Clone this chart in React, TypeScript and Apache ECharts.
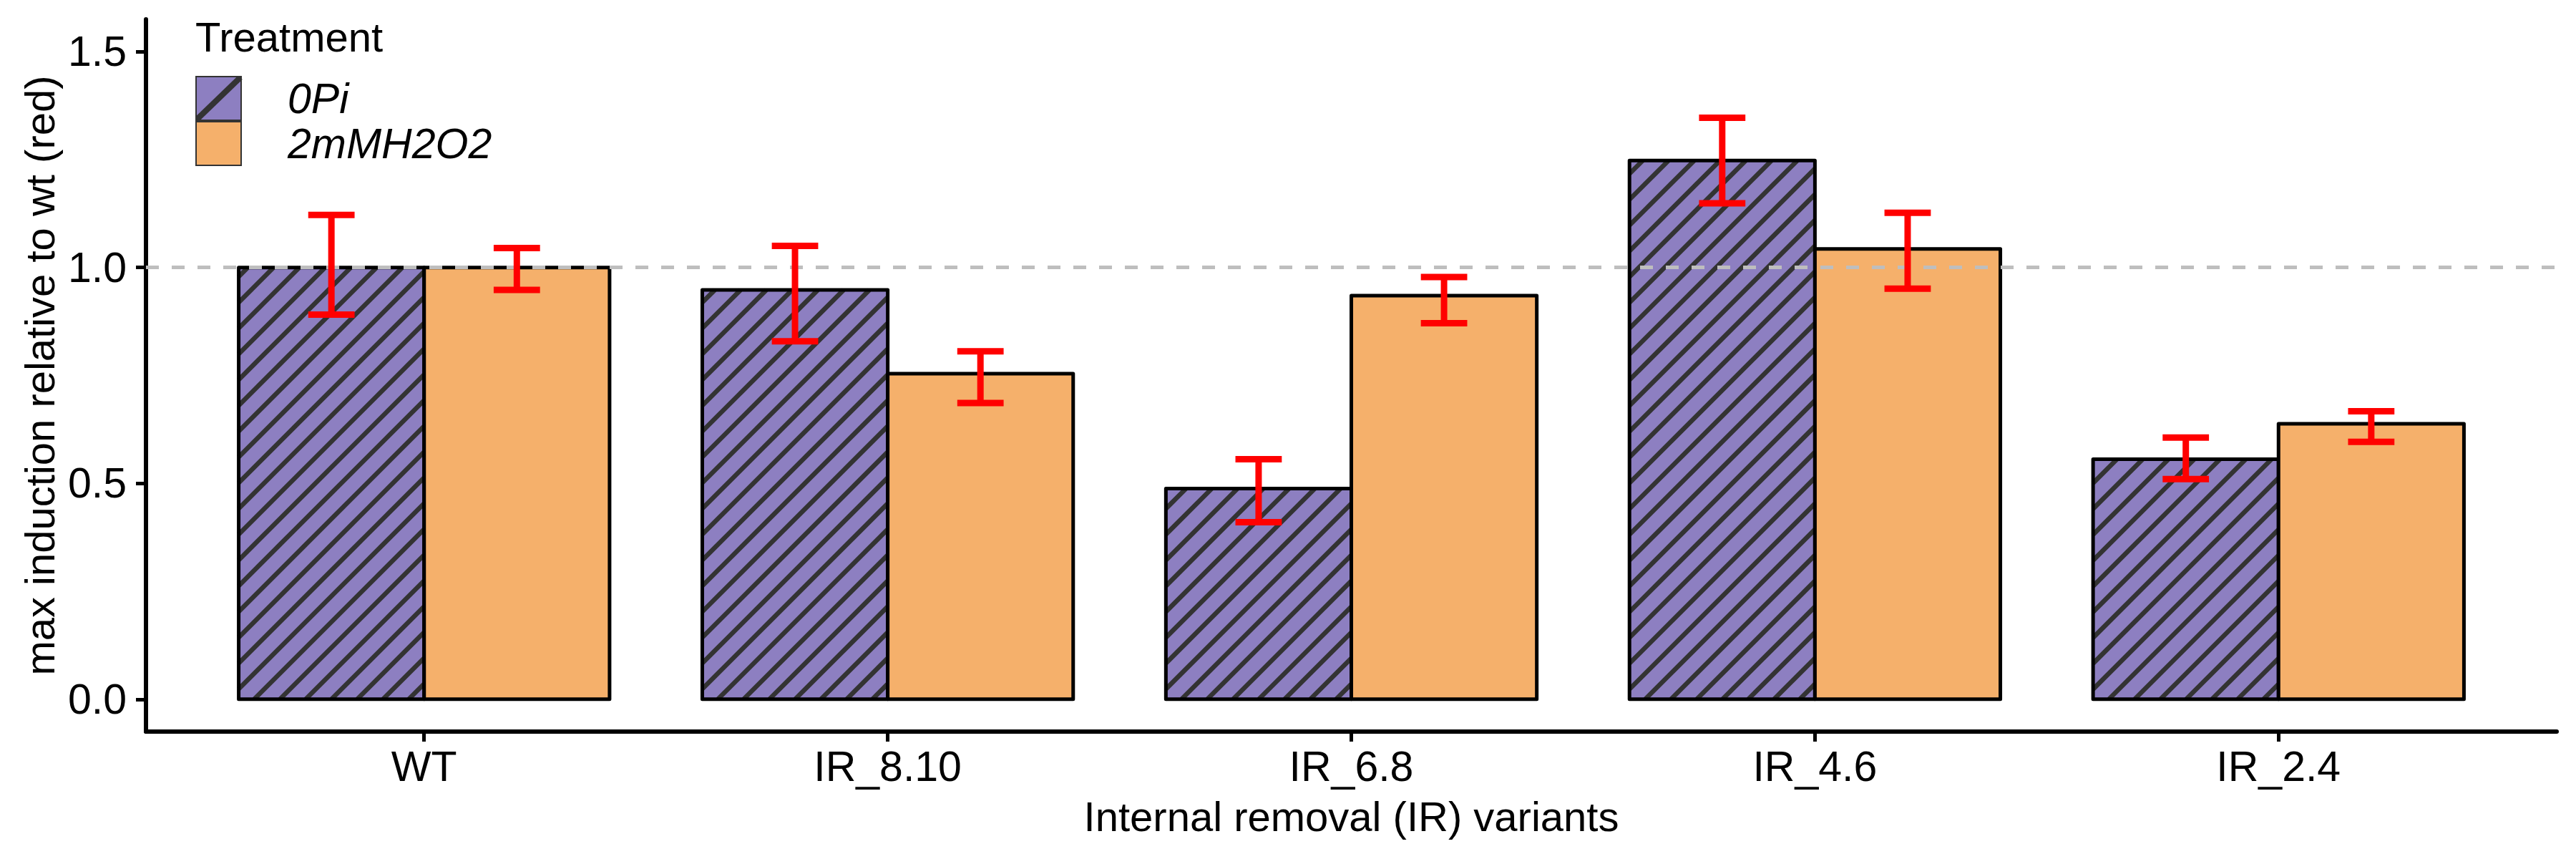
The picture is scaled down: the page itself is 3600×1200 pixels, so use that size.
import React, { useEffect, useRef } from "react";
import * as echarts from "echarts";

// ---- data ----
const categories = ["WT", "IR_8.10", "IR_6.8", "IR_4.6", "IR_2.4"];
const treatments = ["0Pi", "2mMH2O2"];
const pi0Mean = [1.0, 0.948, 0.488, 1.248, 0.556];
const pi0Low = [0.891, 0.829, 0.41, 1.149, 0.51];
const pi0High = [1.122, 1.05, 0.556, 1.347, 0.606];
const h2o2Mean = [1.0, 0.754, 0.935, 1.043, 0.638];
const h2o2Low = [0.948, 0.686, 0.871, 0.951, 0.596];
const h2o2High = [1.045, 0.806, 0.978, 1.127, 0.667];
const yTicks = [0, 0.5, 1.0, 1.5];
const refLine = 1.0;

// ---- style ----
const FONT = "'Liberation Sans', Arial, Helvetica, sans-serif";
const PURPLE = "#8D7FC1";
const ORANGE = "#F5B06B";
const HATCH = "#333333";
const RED = "#FF0000";
const HATCH_STEP = 36;

function svgIcon(fill: string, hatched: boolean) {
  const svg =
    "<svg xmlns='http://www.w3.org/2000/svg' width='124' height='63' viewBox='0 0 124 63'>" +
    `<rect x='1' y='1' width='63' height='61' fill='${fill}' stroke='#333' stroke-width='2'/>` +
    (hatched ? "<line x1='2' y1='61' x2='63' y2='2' stroke='#333' stroke-width='8'/>" : "") +
    "</svg>";
  return "image://data:image/svg+xml;charset=utf-8," + encodeURIComponent(svg);
}

function makeBarRenderer(from: number, to: number, fill: string, hatched: boolean) {
  return (params: any, api: any) => {
    const i = api.value(0);
    const v = api.value(1);
    const p0 = api.coord([i + from, v]);
    const p1 = api.coord([i + to, 0]);
    const x0 = p0[0], y0 = p0[1], x1 = p1[0], y1 = p1[1];
    const children: any[] = [
      { type: "rect", shape: { x: x0, y: y0, width: x1 - x0, height: y1 - y0 }, style: { fill } },
    ];
    if (hatched) {
      const start = Math.ceil((x0 + y0) / HATCH_STEP) * HATCH_STEP;
      for (let c = start; c <= x1 + y1; c += HATCH_STEP) {
        const xa = Math.max(x0, c - y1);
        const xb = Math.min(x1, c - y0);
        if (xb > xa) {
          children.push({
            type: "line",
            shape: { x1: xa, y1: c - xa, x2: xb, y2: c - xb },
            style: { stroke: HATCH, lineWidth: 6.5, lineCap: "butt" },
          });
        }
      }
    }
    children.push({
      type: "rect",
      shape: { x: x0, y: y0, width: x1 - x0, height: y1 - y0 },
      style: { fill: "none", stroke: "#000", lineWidth: 5, lineJoin: "round" },
    });
    return { type: "group", children };
  };
}

function makeErrRenderer(off: number) {
  return (params: any, api: any) => {
    const i = api.value(0);
    const lo = api.value(1);
    const hi = api.value(2);
    const xc = i + off;
    const top = api.coord([xc, hi]);
    const bot = api.coord([xc, lo]);
    const tl = api.coord([xc - 0.05, hi]);
    const tr = api.coord([xc + 0.05, hi]);
    const bl = api.coord([xc - 0.05, lo]);
    const br = api.coord([xc + 0.05, lo]);
    const st = { stroke: RED, lineWidth: 9, lineCap: "butt" };
    return {
      type: "group",
      children: [
        { type: "line", shape: { x1: top[0], y1: top[1], x2: bot[0], y2: bot[1] }, style: st },
        { type: "line", shape: { x1: tl[0], y1: tl[1], x2: tr[0], y2: tr[1] }, style: st },
        { type: "line", shape: { x1: bl[0], y1: bl[1], x2: br[0], y2: br[1] }, style: st },
      ],
    };
  };
}

export default function App() {
  const ref = useRef<HTMLDivElement>(null);
  useEffect(() => {
    if (!ref.current) return;
    const chart = echarts.init(ref.current, null, { renderer: "svg" });
    const catIdx = categories.map((_, i) => i);
    chart.setOption({
      animation: false,
      backgroundColor: "#ffffff",
      textStyle: { fontFamily: FONT },
      title: {
        text: "Treatment",
        left: 273,
        top: 22,
        padding: 0,
        textStyle: { fontSize: 58, fontWeight: "normal", color: "#000", fontFamily: FONT, lineHeight: 58 },
      },
      legend: {
        orient: "vertical",
        left: 273,
        top: 106,
        padding: 0,
        itemGap: 0,
        itemWidth: 124,
        itemHeight: 63,
        selectedMode: false,
        textStyle: { fontSize: 59, fontStyle: "italic", color: "#000", fontFamily: FONT },
        data: [
          { name: treatments[0], icon: svgIcon(PURPLE, true) },
          { name: treatments[1], icon: svgIcon(ORANGE, false) },
        ],
      },
      grid: { left: 204, right: 27, top: 27, bottom: 178, containLabel: false },
      xAxis: {
        type: "value",
        min: -0.6,
        max: categories.length - 0.4,
        name: "Internal removal (IR) variants",
        nameLocation: "middle",
        nameGap: 89,
        nameTextStyle: { fontSize: 58, color: "#000", fontFamily: FONT },
        splitLine: { show: false },
        axisLine: { show: true, onZero: false, lineStyle: { color: "#000", width: 6 } },
        axisTick: { show: true, length: 14, customValues: catIdx, lineStyle: { color: "#000", width: 5 } },
        axisLabel: {
          show: true,
          customValues: catIdx,
          margin: 19,
          fontSize: 59,
          color: "#000",
          fontFamily: FONT,
          formatter: (v: number) => categories[Math.round(v)] ?? "",
        },
      },
      yAxis: {
        type: "value",
        min: -0.075,
        max: 1.575,
        name: "max induction relative to wt (red)",
        nameLocation: "middle",
        nameRotate: 90,
        nameGap: 114,
        nameTextStyle: { fontSize: 58, color: "#000", fontFamily: FONT },
        splitLine: { show: false },
        axisLine: { show: true, onZero: false, lineStyle: { color: "#000", width: 6 } },
        axisTick: { show: true, length: 14, customValues: yTicks, lineStyle: { color: "#000", width: 5 } },
        axisLabel: {
          show: true,
          customValues: yTicks,
          margin: 27,
          fontSize: 59,
          color: "#000",
          fontFamily: FONT,
          formatter: (v: number) => v.toFixed(1),
        },
      },
      series: [
        {
          type: "custom",
          name: treatments[0],
          z: 2,
          encode: { x: 0, y: 1 },
          data: catIdx.map((i) => [i, pi0Mean[i]]),
          renderItem: makeBarRenderer(-0.4, 0, PURPLE, true),
        },
        {
          type: "custom",
          name: treatments[1],
          z: 2,
          encode: { x: 0, y: 1 },
          data: catIdx.map((i) => [i, h2o2Mean[i]]),
          renderItem: makeBarRenderer(0, 0.4, ORANGE, false),
          markLine: {
            silent: true,
            z: 5,
            symbol: ["none", "none"],
            label: { show: false },
            lineStyle: { color: "#BEBEBE", width: 5, type: [18, 18] },
            data: [{ yAxis: refLine }],
          },
        },
        {
          type: "custom",
          name: "err_0Pi",
          z: 10,
          encode: { x: 0, y: [1, 2] },
          data: catIdx.map((i) => [i, pi0Low[i], pi0High[i]]),
          renderItem: makeErrRenderer(-0.2),
        },
        {
          type: "custom",
          name: "err_2mMH2O2",
          z: 10,
          encode: { x: 0, y: [1, 2] },
          data: catIdx.map((i) => [i, h2o2Low[i], h2o2High[i]]),
          renderItem: makeErrRenderer(0.2),
        },
      ],
    });
    return () => chart.dispose();
  }, []);
  return (
    <div
      ref={ref}
      style={{ position: "absolute", left: 0, top: 0, width: 3600, height: 1200, background: "#fff" }}
    />
  );
}
